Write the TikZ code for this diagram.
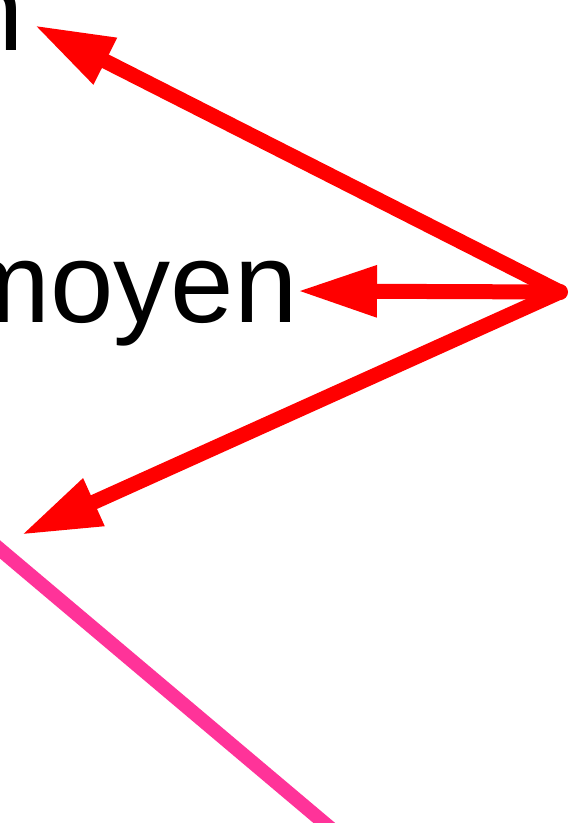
\documentclass[tikz,border=0pt]{standalone}
\usepackage{fontspec}
\setmainfont{Liberation Sans}
\usetikzlibrary{arrows.meta}
\tikzset{
  redarrow/.style={draw=arrowred, line width=15pt, -{Triangle[length=80pt,width=48pt]}},
  bigtext/.style={font=\fontsize{114}{114}\selectfont, inner sep=0pt, anchor=base east},
}
\definecolor{arrowred}{HTML}{FF0000}
\definecolor{linepink}{HTML}{FF3399}
\begin{document}
\begin{tikzpicture}[x=1pt,y=-1pt]
\useasboundingbox (0,0) rectangle (578,823);
\clip (0,0) rectangle (578,823);
\fill[white] (0,0) rectangle (578,823);
\node[bigtext] (n) at (24,50) {n};
\node[bigtext] (moyen) at (298,322) {moyen};
\coordinate (o) at (560,292);
\coordinate (t1) at (34,25);
\coordinate (t2) at (297,291);
\coordinate (t3) at (21,535);
\coordinate (p1) at (-10,541);
\coordinate (p2) at (335,832);
\draw[linepink, line width=14pt] (p1) -- (p2);
\draw[redarrow] (o) -- (t1);
\draw[redarrow] (o) -- (t2);
\draw[redarrow] (o) -- (t3);
\fill[arrowred] (o) circle (8pt);
\end{tikzpicture}
\end{document}
